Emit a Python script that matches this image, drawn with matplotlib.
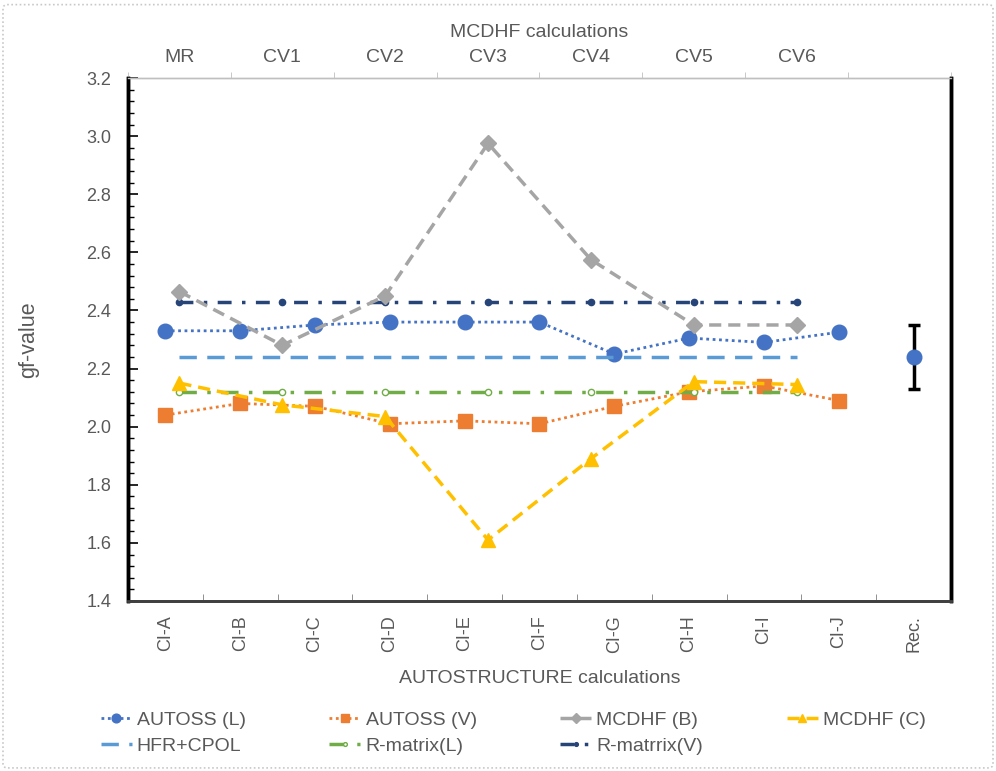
import matplotlib.pyplot as plt
import numpy as np
from matplotlib.patches import FancyBboxPatch

plt.rcParams["font.family"] = ["Liberation Sans", "DejaVu Sans"]

# bottom axis: AUTOSTRUCTURE calculations
ci_labels = ["CI-A", "CI-B", "CI-C", "CI-D", "CI-E", "CI-F", "CI-G", "CI-H", "CI-I", "CI-J", "Rec."]
autoss_l = [2.33, 2.33, 2.35, 2.36, 2.36, 2.36, 2.25, 2.305, 2.29, 2.325]
autoss_v = [2.04, 2.08, 2.07, 2.01, 2.02, 2.01, 2.07, 2.12, 2.14, 2.09]
rec_value = 2.24
rec_err_low = 2.13
rec_err_high = 2.35

# top axis: MCDHF calculations
mcdhf_labels = ["MR", "CV1", "CV2", "CV3", "CV4", "CV5", "CV6"]
mcdhf_b = [2.465, 2.28, 2.45, 2.975, 2.575, 2.35, 2.35]
mcdhf_c = [2.15, 2.075, 2.035, 1.61, 1.89, 2.155, 2.145]
hfr_cpol = [2.24] * 7
rmatrix_l = [2.12] * 7
rmatrix_v = [2.43] * 7

text_col = "#595959"

fig = plt.figure(figsize=(9.96, 7.71), dpi=100)
ax = fig.add_axes([0.1285, 0.2205, 0.8263, 0.6783])
ax2 = ax.twiny()

x_ci = np.arange(len(autoss_l))
x_md = np.arange(len(mcdhf_labels))

l_al, = ax.plot(x_ci, autoss_l, linestyle=(0, (1, 1.3)), color="#4472C4", lw=2,
                marker="o", ms=10.5, label="AUTOSS (L)")
l_av, = ax.plot(x_ci, autoss_v, linestyle=(0, (1, 1.3)), color="#ED7D31", lw=2,
                marker="s", ms=9.5, label="AUTOSS (V)")
ax.errorbar([10], [rec_value], yerr=[[rec_value - rec_err_low], [rec_err_high - rec_value]],
            fmt="none", ecolor="black", elinewidth=2.5, capsize=4, capthick=2.5, zorder=3)
ax.plot([10], [rec_value], linestyle="none", marker="o", ms=10.5, color="#4472C4", zorder=4)

l_hfr, = ax2.plot(x_md, hfr_cpol, linestyle=(0, (5, 3)), color="#5B9BD5", lw=2.5, label="HFR+CPOL")
l_rl, = ax2.plot(x_md, rmatrix_l, linestyle=(0, (5, 3, 1, 3)), color="#70AD47", lw=2.5,
                 marker="o", ms=4.5, mfc="white", mec="#70AD47", mew=1, label="R-matrix(L)")
l_rv, = ax2.plot(x_md, rmatrix_v, linestyle=(0, (4, 3, 1, 3)), color="#264478", lw=2.5,
                 marker="o", ms=4.5, label="R-matrrix(V)")
l_mb, = ax2.plot(x_md, mcdhf_b, linestyle=(0, (3.5, 2)), color="#A5A5A5", lw=2.5,
                 marker="D", ms=8, label="MCDHF (B)")
l_mc, = ax2.plot(x_md, mcdhf_c, linestyle=(0, (3.5, 2)), color="#FFC000", lw=2.5,
                 marker="^", ms=10, label="MCDHF (C)")

ax.set_ylim(1.4, 3.2)
ax.set_xlim(-0.5, len(ci_labels) - 0.5)
ax2.set_xlim(-0.5, len(mcdhf_labels) + 0.5)

ax.set_yticks(np.arange(1.4, 3.21, 0.2))
ax.set_yticklabels([f"{v:.1f}" for v in np.arange(1.4, 3.21, 0.2)])
ax.set_yticks(np.arange(1.4, 3.21, 0.04), minor=True)
ax.tick_params(axis="y", which="major", direction="in", length=7, width=1.2, pad=12,
               labelsize=13, labelcolor=text_col)
ax.tick_params(axis="y", which="minor", direction="in", length=4, width=1)

ax.set_xticks(np.arange(len(ci_labels)))
ax.set_xticklabels(ci_labels, rotation=90)
ax.set_xticks(np.arange(-0.5, len(ci_labels)), minor=True)
ax.tick_params(axis="x", which="major", length=0, pad=10, labelsize=13, labelcolor=text_col)
ax.tick_params(axis="x", which="minor", direction="in", length=5, color="#7f7f7f")

ax2.set_xticks(x_md)
ax2.set_xticklabels(mcdhf_labels)
ax2.set_xticks(np.arange(-0.5, len(mcdhf_labels) + 1), minor=True)
ax2.tick_params(axis="x", which="major", length=0, pad=9, labelsize=14, labelcolor=text_col)
ax2.tick_params(axis="x", which="minor", direction="out", length=4, color="#bfbfbf")

for a in (ax, ax2):
    a.spines["left"].set_linewidth(2.5)
    a.spines["right"].set_linewidth(2.5)
    a.spines["bottom"].set_linewidth(2)
    a.spines["bottom"].set_color("#404040")
    a.spines["top"].set_linewidth(1)
    a.spines["top"].set_color("#bfbfbf")

ax.set_ylabel("gf-value", fontsize=15.5, color=text_col)
ax.yaxis.set_label_coords(-0.108, 0.5)
ax.set_xlabel("AUTOSTRUCTURE calculations", fontsize=14, color=text_col)
ax.xaxis.set_label_coords(0.5, -0.131)
ax2.set_xlabel("MCDHF calculations", fontsize=14, color=text_col)
ax2.xaxis.set_label_coords(0.5, 1.078)

handles = [l_al, l_hfr, l_av, l_rl, l_mb, l_rv, l_mc]
fig.legend(handles=handles, labels=[h.get_label() for h in handles], ncol=4, loc="center left",
           bbox_to_anchor=(0.0834, 0.049), frameon=False, fontsize=14, labelcolor=text_col,
           handlelength=1.6, handletextpad=0.26, columnspacing=4.3, labelspacing=0.45, markerscale=0.6)

fig.patches.append(FancyBboxPatch((0.003, 0.004), 0.994, 0.99, boxstyle="round,pad=0,rounding_size=0.005",
                                  transform=fig.transFigure, fill=False, ec="#c8c8c8", lw=1.2,
                                  linestyle=(0, (1, 1.5))))

fig.savefig("out.png", dpi=100)
